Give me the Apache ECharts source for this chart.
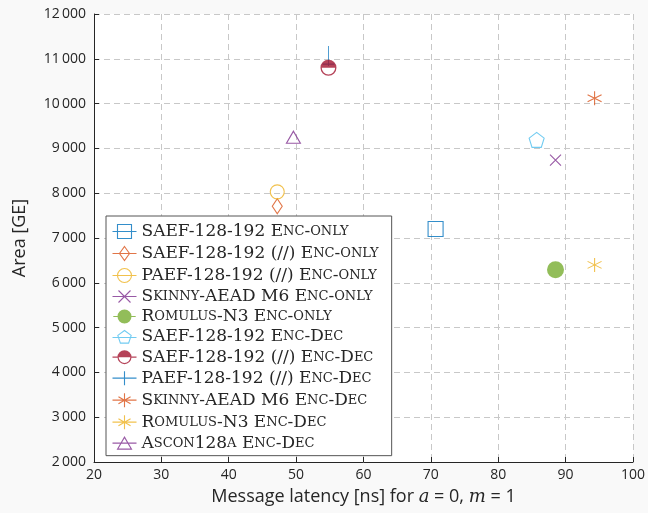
<!DOCTYPE html>
<html><head><meta charset="utf-8">
<script src="https://cdn.jsdelivr.net/npm/echarts@6/dist/echarts.min.js"></script>
<style>html,body{margin:0;padding:0;background:#f9f9f9}#c{width:648px;height:513px}</style>
</head><body><div id="c"></div>
<script>
// ---- data ----
const seriesNames = [
  'SAEF-128-192 Enc-only',
  'SAEF-128-192 (//) Enc-only',
  'PAEF-128-192 (//) Enc-only',
  'Skinny-AEAD M6 Enc-only',
  'Romulus-N3 Enc-only',
  'SAEF-128-192 Enc-Dec',
  'SAEF-128-192 (//) Enc-Dec',
  'PAEF-128-192 (//) Enc-Dec',
  'Skinny-AEAD M6 Enc-Dec',
  'Romulus-N3 Enc-Dec',
  'Ascon128a Enc-Dec'
];
const latency = [70.7, 47.2, 47.2, 88.5, 88.5, 85.7, 54.8, 54.8, 94.3, 94.3, 49.6];
const area    = [7200, 7710, 8030, 8740, 6290, 9190, 10800, 11060, 10120, 6400, 9250];
const xTicks = [20, 30, 40, 50, 60, 70, 80, 90, 100];
const yTicks = [2000, 3000, 4000, 5000, 6000, 7000, 8000, 9000, 10000, 11000, 12000];

// ---- styles ----
const colors = ['#0072BD','#D95319','#EDB120','#7E2F8E','#77AC30','#4DBEEE','#A2142F','#0072BD','#D95319','#EDB120','#7E2F8E'];
const PENT = 'M10,0L19.51,6.91L15.88,18.09L4.12,18.09L0.49,6.91Z';
const AST = 'M7,0L7,14M0.94,3.5L13.06,10.5M0.94,10.5L13.06,3.5';
const HALF = 'M0,8A8,8 0 0 1 16,8ZM16,8A8,8 0 0 1 0,8L1.3,8A6.7,6.7 0 0 0 14.7,8Z';
const markers = [
  {symbol:'rect', size:15, kind:'hollow'},
  {symbol:'diamond', size:[10,15], kind:'hollow'},
  {symbol:'circle', size:14, kind:'hollow'},
  {symbol:'path://M0,0L10,10M0,10L10,0', size:11, kind:'stroke'},
  {symbol:'circle', size:17, kind:'fill'},
  {symbol:'path://'+PENT, size:15, kind:'hollow'},
  {symbol:'path://'+HALF, size:16, kind:'fill'},
  {symbol:'path://M6,0L6,20M0,18L12,18', size:[12,20], kind:'stroke', z:1},
  {symbol:'path://'+AST, size:14, kind:'stroke'},
  {symbol:'path://'+AST, size:14, kind:'stroke'},
  {symbol:'triangle', size:[14,12], kind:'hollow'}
];
const L = 'M0,7L24,7';
const legendIcons = [
  {p: L+'M5,0h14v14h-14z', kind:'hollow'},
  {p: L+'M12,0L17,7L12,14L7,7z', kind:'hollow'},
  {p: L+'M5,7A7,7 0 1 1 19,7A7,7 0 1 1 5,7z', kind:'hollow'},
  {p: L+'M6,1L18,13M6,13L18,1', kind:'stroke'},
  {p: 'M0,6.4h24v1.2h-24zM4.5,7A7.5,7.5 0 1 1 19.5,7A7.5,7.5 0 1 1 4.5,7z', kind:'fill'},
  {p: L+'M12,0L18.66,4.84L16.11,12.66L7.89,12.66L5.34,4.84Z', kind:'hollow'},
  {p: 'M0,6.4h5.2v1.2h-5.2zM18.8,6.4h5.2v1.2h-5.2zM5,7A7,7 0 0 1 19,7ZM19,7A7,7 0 0 1 5,7L6.2,7A5.8,5.8 0 0 0 17.8,7Z', kind:'fill'},
  {p: 'M0,7L24,7M12,0L12,14', kind:'stroke'},
  {p: L+'M12,0L12,14M5.94,3.5L18.06,10.5M5.94,10.5L18.06,3.5', kind:'stroke'},
  {p: L+'M12,0L12,14M5.94,3.5L18.06,10.5M5.94,10.5L18.06,3.5', kind:'stroke'},
  {p: L+'M5,13L12,1L19,13z', kind:'hollow'}
];

function styleFor(kind, c){
  if (kind === 'fill') return {color:c, borderWidth:0};
  return {color:'none', borderColor:c, borderWidth:1.1};
}
function smallCaps(s){
  let out = '', run = '', runType = null;
  const flush = () => { if (run) out += '{' + runType + '|' + run + '}'; run=''; };
  for (const ch of s){
    const t = (ch >= 'a' && ch <= 'z') ? 's' : 'n';
    if (t !== runType){ flush(); runType = t; }
    run += (t === 's') ? ch.toUpperCase() : ch;
  }
  flush();
  return out;
}
const serifFont = 'DejaVu Serif';
const sansFont = 'Open Sans';
const txt = '#262626';

const series = seriesNames.map((n,i) => ({
  name: n, type:'scatter',
  data: [[latency[i], area[i]]],
  symbol: markers[i].symbol,
  symbolSize: markers[i].size,
  z: markers[i].z || 2,
  itemStyle: styleFor(markers[i].kind, colors[i]),
  emphasis: {disabled: true}
}));

const chart = echarts.init(document.getElementById('c'), null, {renderer:'canvas'});
chart.setOption({
  backgroundColor: '#f9f9f9',
  animation: false,
  grid: {left:94, right:15, top:14, bottom:51, show:true, backgroundColor:'#ffffff', borderWidth:0},
  xAxis: {
    type:'value', min: xTicks[0], max: xTicks[xTicks.length-1], interval: 10,
    name: '{n|Message latency [ns] for }{i|a}{n| = 0, }{i|m}{n| = 1}',
    nameLocation:'middle', nameGap: 26,
    nameTextStyle: {rich: {
      n: {fontFamily: sansFont, fontSize: 18, color: txt},
      i: {fontFamily: 'DejaVu Serif', fontStyle:'italic', fontSize: 18, color: txt}
    }},
    axisLine: {show:true, onZero:false, lineStyle:{color:txt, width:1}},
    axisTick: {show:true, inside:true, length:5, lineStyle:{color:txt}},
    axisLabel: {color: txt, fontFamily: sansFont, fontSize: 14, margin: 6},
    splitLine: {show:true, lineStyle:{color:'#c8c8c8', type:[6,4], width:1}}
  },
  yAxis: {
    type:'value', min: yTicks[0], max: yTicks[yTicks.length-1], interval: 1000,
    name: 'Area [GE]', nameLocation:'middle', nameGap: 65,
    nameTextStyle: {fontFamily: sansFont, fontSize: 18, color: txt},
    axisLine: {show:true, onZero:false, lineStyle:{color:txt, width:1}},
    axisTick: {show:true, inside:true, length:5, lineStyle:{color:txt}},
    axisLabel: {color: txt, fontFamily: sansFont, fontSize: 14, margin: 8,
      formatter: v => v >= 1000 ? Math.floor(v/1000) + '\u2009' + String(v % 1000).padStart(3,'0') : String(v)},
    splitLine: {show:true, lineStyle:{color:'#c8c8c8', type:[6,4], width:1}}
  },
  legend: {
    orient:'vertical', left:106, top:216,
    backgroundColor:'#ffffff', borderColor:'#555555', borderWidth:1,
    padding:[6,13,4,4], itemGap:3, itemWidth:24, itemHeight:14,
    selectedMode:false,
    data: seriesNames.map((n,i) => ({
      name: n, icon: 'path://' + legendIcons[i].p,
      itemStyle: styleFor(legendIcons[i].kind, colors[i])
    })),
    formatter: name => smallCaps(name),
    textStyle: {color: txt, lineHeight: 15, rich: {
      n: {fontFamily: serifFont, fontSize: 17, lineHeight: 15, color: txt},
      s: {fontFamily: serifFont, fontSize: 13, lineHeight: 15, color: txt}
    }}
  },
  series: series
});
</script></body></html>
